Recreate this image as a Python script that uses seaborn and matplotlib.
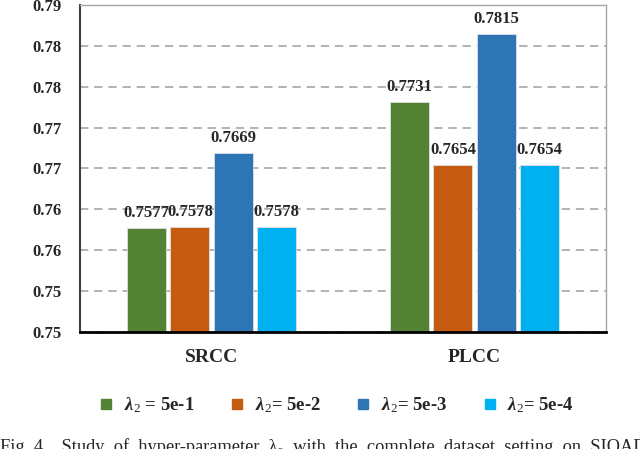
import matplotlib
matplotlib.use("Agg")
import matplotlib.pyplot as plt
from matplotlib.lines import Line2D
import seaborn as sns
import pandas as pd

# Données
metrics = ["SRCC", "PLCC"]
lambda_labels = ["5e-1", "5e-2", "5e-3", "5e-4"]
srcc_values = [0.7577, 0.7578, 0.7669, 0.7578]
plcc_values = [0.7731, 0.7654, 0.7815, 0.7654]
y_ticks = [0.745, 0.750, 0.755, 0.760, 0.765, 0.770, 0.775, 0.780, 0.785]
y_tick_labels = ["0.75", "0.75", "0.76", "0.76", "0.77", "0.77", "0.78", "0.78", "0.79"]
colors = ["#548235", "#C55A11", "#2E75B6", "#00B0F0"]
caption = "Fig. 4.   Study  of  hyper-parameter  \u03bb\u2082  with  the  complete  dataset  setting  on  SIQAD"

rows = []
for m, vals in zip(metrics, [srcc_values, plcc_values]):
    for lab, v in zip(lambda_labels, vals):
        rows.append({"metric": m, "lam": lab, "value": v})
df = pd.DataFrame(rows)

sns.set_theme(style="white")
plt.rcParams["font.family"] = ["Liberation Serif", "DejaVu Serif"]
plt.rcParams["mathtext.fontset"] = "custom"
plt.rcParams["mathtext.rm"] = "Liberation Serif"
plt.rcParams["mathtext.bf"] = "Liberation Serif:bold"
plt.rcParams["mathtext.it"] = "Liberation Serif:italic"
plt.rcParams["mathtext.bfit"] = "Liberation Serif:bold:italic"

fig = plt.figure(figsize=(6.4, 4.49), dpi=100)
ax = fig.add_axes([0.125, 0.2606, 0.822, 0.7283])

sns.barplot(data=df, x="metric", y="value", hue="lam", palette=colors,
            saturation=1, width=0.66, gap=0.1, edgecolor="#E0E0E0",
            linewidth=0.6, legend=False, ax=ax)

for cont in ax.containers:
    ax.bar_label(cont, fmt="%.4f", padding=5, fontsize=12, fontweight="bold")

ax.set_ylim(0.745, 0.785)
ax.set_xlim(-0.5, 1.5)
ax.set_yticks(y_ticks)
ax.set_yticklabels(y_tick_labels, fontsize=12, fontweight="bold")
ax.set_xlabel(""); ax.set_ylabel("")
for t in ax.get_xticklabels():
    t.set_fontsize(14); t.set_fontweight("bold")
ax.tick_params(axis="y", length=0, pad=13)
ax.tick_params(axis="x", length=0, pad=12)

ax.yaxis.grid(True, linestyle=(0, (5, 3.5)), color="#A6A6A6", linewidth=1.2)
ax.set_axisbelow(True)
ax.spines["bottom"].set_color("black"); ax.spines["bottom"].set_linewidth(2.0)
ax.spines["left"].set_color("#404040"); ax.spines["left"].set_linewidth(1.5)
for s in ["top", "right"]:
    ax.spines[s].set_color("#A6A6A6"); ax.spines[s].set_linewidth(1.0)

handles = [Line2D([], [], marker="s", linestyle="none", markersize=6.5,
                  markerfacecolor=c, markeredgecolor=c) for c in colors]
labels = [r"$\mathbfit{\lambda}_2$ = " + lab if i == 0 else
          r"$\mathbfit{\lambda}_2$= " + lab
          for i, lab in enumerate(lambda_labels)]
fig.legend(handles, labels, loc="center", bbox_to_anchor=(0.527, 0.098),
           ncol=4, frameon=False, handlelength=0.6, handletextpad=0.64,
           columnspacing=1.97, prop={"size": 13.5, "weight": "bold"})

fig.text(0.0, 0.024, caption, fontsize=13.2, va="top", ha="left")

fig.savefig("out.png", dpi=100)
